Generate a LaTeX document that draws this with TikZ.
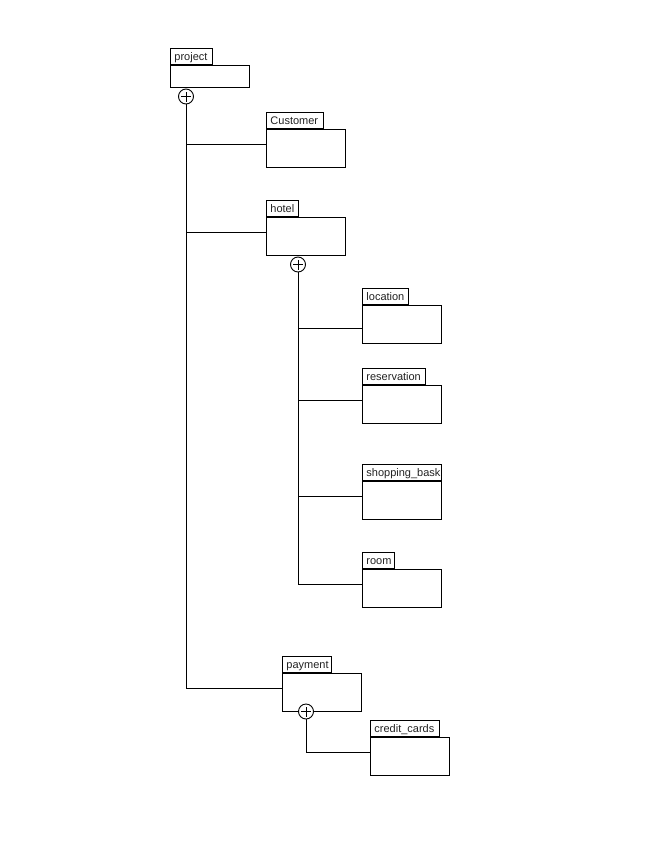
\documentclass[tikz,border=0pt]{standalone}
\usepackage{fontspec}
\setmainfont{Liberation Sans}
\usepackage{xcolor}
\usepackage{tikz}
\usetikzlibrary{positioning}
\definecolor{inkK}{HTML}{000000}
\definecolor{txtG}{HTML}{222222}

\tikzset{
  pkgbody/.style={draw=inkK, anchor=north west, inner sep=0pt,
                  minimum width=79pt, minimum height=38pt},
  pkgtab/.style={draw=inkK, anchor=south west, inner xsep=4pt, inner ysep=0pt,
                 text width=#1, minimum height=16.5pt, align=left,
                 text height=8pt, text depth=0.5pt,
                 font=\fontsize{11}{12}\selectfont, text=txtG},
  plus/.style={draw=inkK, circle, fill=white, minimum size=15pt, inner sep=0pt,
               path picture={
                 \draw ([xshift=-5pt]path picture bounding box.center) -- ([xshift=5pt]path picture bounding box.center);
                 \draw ([yshift=-5pt]path picture bounding box.center) -- ([yshift=5pt]path picture bounding box.center);
               }},
  link/.style={draw=inkK}
}

\begin{document}
\begin{tikzpicture}[x=1pt, y=-1pt, line width=0.9pt]
  \useasboundingbox (0,0) rectangle (661,859);

  % packages
  \node[pkgbody, minimum height=22pt] (proj) at (170,65) {};
  \node[pkgtab=34pt] (projtab) at (proj.north west) {project};
  \node[pkgbody] (cust) at (266,129) {};
  \node[pkgtab=49pt] (custtab) at (cust.north west) {Customer};
  \node[pkgbody] (hotel) at (266,217) {};
  \node[pkgtab=24pt] (hoteltab) at (hotel.north west) {hotel};
  \node[pkgbody] (loc) at (362,305) {};
  \node[pkgtab=38pt] (loctab) at (loc.north west) {location};
  \node[pkgbody] (resv) at (362,385) {};
  \node[pkgtab=55pt] (resvtab) at (resv.north west) {reservation};
  \node[pkgbody] (shop) at (362,481) {};
  \node[pkgtab=71pt] (shoptab) at (shop.north west) {shopping\_bask};
  \node[pkgbody] (room) at (362,569) {};
  \node[pkgtab=24pt] (roomtab) at (room.north west) {room};
  \node[pkgbody] (pay) at (282,673) {};
  \node[pkgtab=41pt] (paytab) at (pay.north west) {payment};
  \node[pkgbody] (card) at (370,737) {};
  \node[pkgtab=61pt] (cardtab) at (card.north west) {credit\_cards};

  % containment
  \node[plus] (projplus) at (186,96.5) {};
  \node[plus] (hotelplus) at (298,264.5) {};

  \draw[link] (projplus.south) |- ([yshift=-15pt]pay.north west);
  \draw[link] ([yshift=-15pt]cust.north west) -| (projplus.south);
  \draw[link] ([yshift=-15pt]hotel.north west) -| (projplus.south);

  \draw[link] (hotelplus.south) |- ([yshift=-15pt]room.north west);
  \draw[link] ([yshift=-23pt]loc.north west) -| (hotelplus.south);
  \draw[link] ([yshift=-15pt]resv.north west) -| (hotelplus.south);
  \draw[link] ([yshift=-15pt]shop.north west) -| (hotelplus.south);

  \node[plus] (payplus) at (306,711.5) {};
  \draw[link] (payplus.south) |- ([yshift=-15pt]card.north west);
\end{tikzpicture}
\end{document}
